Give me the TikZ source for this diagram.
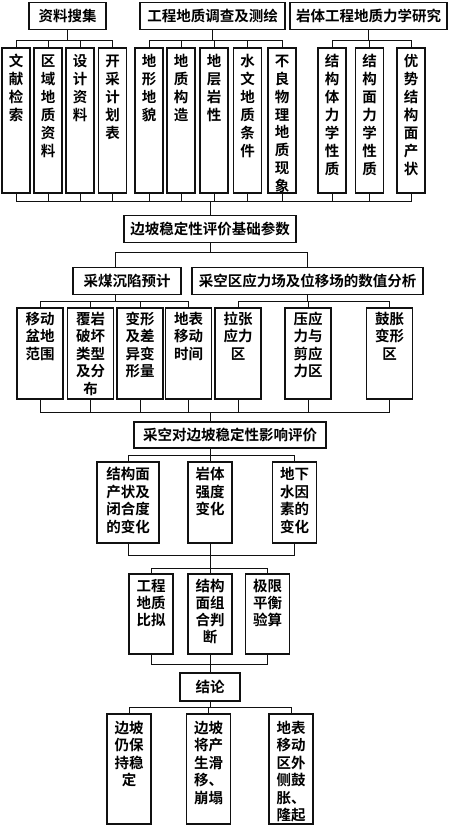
\documentclass[tikz,border=0pt]{standalone}
\usepackage{fontspec}
\newfontfamily\cjk{Noto Sans CJK SC}[BoldFont={Noto Sans CJK SC Bold}]
\usepackage{xcolor}
\definecolor{boxline}{HTML}{111111}

% text stacked from the top of a tall box
\newcommand{\stack}[4]{\parbox[t][#2][t]{#1}{\centering\rule{0pt}{#3}#4}}

\begin{document}
\begin{tikzpicture}[x=1pt, y=-1pt,
    title/.style={draw=boxline, line width=1.6pt, inner sep=0pt, minimum height=27pt,
      font=\cjk\bfseries\fontsize{14.5}{17}\selectfont},
    col/.style={draw=boxline, line width=1.6pt, inner sep=0pt, anchor=north,
      font=\cjk\bfseries\fontsize{14.5}{#1}\selectfont},
    col/.default=17.5,
    link/.style={draw=boxline, line width=0.9pt}]
  \useasboundingbox (0,0) rectangle (450,825);

  % top row
  \node[title, minimum width=77pt] (zl) at (67.5,16) {资料搜集};
  \node[title, minimum width=145pt] (gc) at (212.5,16) {工程地质调查及测绘};
  \node[title, minimum width=157pt] (yt) at (368.5,16) {岩体工程地质力学研究};

  \node[col=18] (wx) at (16,47) {\stack{28pt}{145pt}{18.5pt}{文\\献\\检\\索}};
  \node[col=18] (qy) at (48,47) {\stack{28pt}{145pt}{18.5pt}{区\\域\\地\\质\\资\\料}};
  \node[col=18] (sj) at (80,47) {\stack{28pt}{145pt}{18.5pt}{设\\计\\资\\料}};
  \node[col=18] (kc) at (112.5,47) {\stack{28pt}{145pt}{18.5pt}{开\\采\\计\\划\\表}};
  \node[col=18] (dx) at (149,47) {\stack{28pt}{145pt}{18.5pt}{地\\形\\地\\貌}};
  \node[col=18] (dz) at (181,47) {\stack{28pt}{145pt}{18.5pt}{地\\质\\构\\造}};
  \node[col=18] (dc) at (214,47) {\stack{28pt}{145pt}{18.5pt}{地\\层\\岩\\性}};
  \node[col=18] (sw) at (247.5,47) {\stack{28pt}{145pt}{18.5pt}{水\\文\\地\\质\\条\\件}};
  \node[col=17.9] (bl) at (282,47) {\stack{28pt}{145pt}{18.5pt}{不\\良\\物\\理\\地\\质\\现\\象}};
  \node[col=18] (jt) at (332,47) {\stack{28pt}{145pt}{18.5pt}{结\\构\\体\\力\\学\\性\\质}};
  \node[col=18] (jm) at (369.5,47) {\stack{28pt}{145pt}{18.5pt}{结\\构\\面\\力\\学\\性\\质}};
  \node[col=18] (ys) at (411,47) {\stack{28pt}{145pt}{18.5pt}{优\\势\\结\\构\\面\\产\\状}};

  \draw[link] (zl.south) -- ++(0,10) -| (wx.north);
  \draw[link] (zl.south) -- ++(0,10) -| (qy.north);
  \draw[link] (zl.south) -- ++(0,10) -| (sj.north);
  \draw[link] (zl.south) -- ++(0,10) -| (kc.north);
  \draw[link] (gc.south) -- ++(0,10) -| (dx.north);
  \draw[link] (gc.south) -- ++(0,10) -| (dz.north);
  \draw[link] (gc.south) -- ++(0,10) -| (dc.north);
  \draw[link] (gc.south) -- ++(0,10) -| (sw.north);
  \draw[link] (gc.south) -- ++(0,10) -| (bl.north);
  \draw[link] (yt.south) -- ++(0,10) -| (jt.north);
  \draw[link] (yt.south) -- ++(0,10) -| (jm.north);
  \draw[link] (yt.south) -- ++(0,10) -| (ys.north);

  % basic parameters
  \node[title, minimum width=172pt] (jc) at (210,229) {边坡稳定性评价基础参数};
  \foreach \n in {wx,qy,sj,kc,dx,dz,dc,sw,bl,jt,jm,ys}
    \draw[link] (\n.south) -- ++(0,8) -| (jc.north);

  \node[title, minimum width=108pt] (cm) at (127,281) {采煤沉陷预计};
  \node[title, minimum width=231pt] (ck) at (307.5,281) {采空区应力场及位移场的数值分析};
  \draw[link] (jc.south) -- ++(0,9.5) -| ([xshift=-12pt]cm.north);
  \draw[link] (jc.south) -- ++(0,9.5) -| (ck.north);

  % second row
  \node[col] (yd) at (40,307) {\stack{46pt}{91pt}{16.5pt}{移动\\盆地\\范围}};
  \node[col] (fy) at (90.5,307) {\stack{46pt}{91pt}{16.5pt}{覆岩\\破坏\\类型\\及分\\布}};
  \node[col] (bx) at (140,307) {\stack{46pt}{91pt}{16.5pt}{变形\\及差\\异变\\形量}};
  \node[col] (db) at (188.5,307) {\stack{46pt}{91pt}{16.5pt}{地表\\移动\\时间}};
  \node[col] (lz) at (238,307) {\stack{46pt}{91pt}{16.5pt}{拉张\\应力\\区}};
  \node[col] (yy) at (308,307) {\stack{46pt}{91pt}{16.5pt}{压应\\力与\\剪应\\力区}};
  \node[col] (gz) at (389.5,307) {\stack{46pt}{91pt}{16.5pt}{鼓胀\\变形\\区}};

  \draw[link] ([xshift=-12pt]cm.south) -- ++(0,6) -| (yd.north);
  \draw[link] ([xshift=-12pt]cm.south) -- ++(0,6) -| (fy.north);
  \draw[link] ([xshift=-12pt]cm.south) -- ++(0,6) -| (bx.north);
  \draw[link] ([xshift=-12pt]cm.south) -- ++(0,6) -| (db.north);
  \draw[link] (ck.south) -- ++(0,6) -| (lz.north);
  \draw[link] (ck.south) -- ++(0,6) -| (yy.north);
  \draw[link] (ck.south) -- ++(0,6) -| (gz.north);

  % influence of the goaf
  \node[title, minimum width=192pt, minimum height=26pt] (yx) at (230,435) {采空对边坡稳定性影响评价};
  \foreach \n in {yd,fy,bx,db,lz,yy,gz}
    \draw[link] (\n.south) -- ++(0,13) -| (yx.north -| jc.south);

  \node[col=17.7] (jg) at (128,461) {\stack{62pt}{81pt}{17.5pt}{结构面\\产状及\\闭合度\\的变化}};
  \node[col=17.7] (qd) at (210,461) {\stack{44pt}{81pt}{17.5pt}{岩体\\强度\\变化}};
  \node[col=17.7] (dxs) at (294.5,461) {\stack{44pt}{81pt}{17.5pt}{地下\\水因\\素的\\变化}};
  \draw[link] (yx.south -| jc.south) -- ++(0,7) -| (jg.north);
  \draw[link] (yx.south -| jc.south) -- (qd.north);
  \draw[link] (yx.south -| jc.south) -- ++(0,7) -| (dxs.north);

  % methods
  \node[col=17] (gb) at (151,573) {\stack{44pt}{80pt}{17.5pt}{工程\\地质\\比拟}};
  \node[col=17] (zh) at (210,573) {\stack{44pt}{80pt}{17.5pt}{结构\\面组\\合判\\断}};
  \node[col=17] (jx) at (267.5,573) {\stack{44pt}{80pt}{17.5pt}{极限\\平衡\\验算}};
  \draw[link] (jg.south) -- ++(0,12) -| (dxs.south);
  \draw[link] (qd.south) -- ++(0,25) -| (gb.north);
  \draw[link] (qd.south) -- (zh.north);
  \draw[link] (qd.south) -- ++(0,25) -| (jx.north);

  % conclusion
  \node[title, minimum width=60pt, minimum height=28pt] (jl) at (210,687) {结论};
  \draw[link] (gb.south) -- ++(0,10) -| (jl.north);
  \draw[link] (zh.south) -- (jl.north);
  \draw[link] (jx.south) -- ++(0,10) -| (jl.north);

  \node[col] (wd) at (129,713) {\stack{44pt}{110pt}{19.5pt}{边坡\\仍保\\持稳\\定}};
  \node[col] (hy) at (208.5,713) {\stack{44pt}{110pt}{19.5pt}{边坡\\将产\\生滑\\移、\\崩塌}};
  \node[col] (lq) at (291,713) {\stack{44pt}{110pt}{19.5pt}{地表\\移动\\区外\\侧鼓\\胀、\\隆起}};
  \draw[link] (jl.south) -- ++(0,6) -| (wd.north);
  \draw[link] (jl.south) -- ++(0,6) -| (hy.north);
  \draw[link] (jl.south) -- ++(0,6) -| (lq.north);
\end{tikzpicture}
\end{document}
